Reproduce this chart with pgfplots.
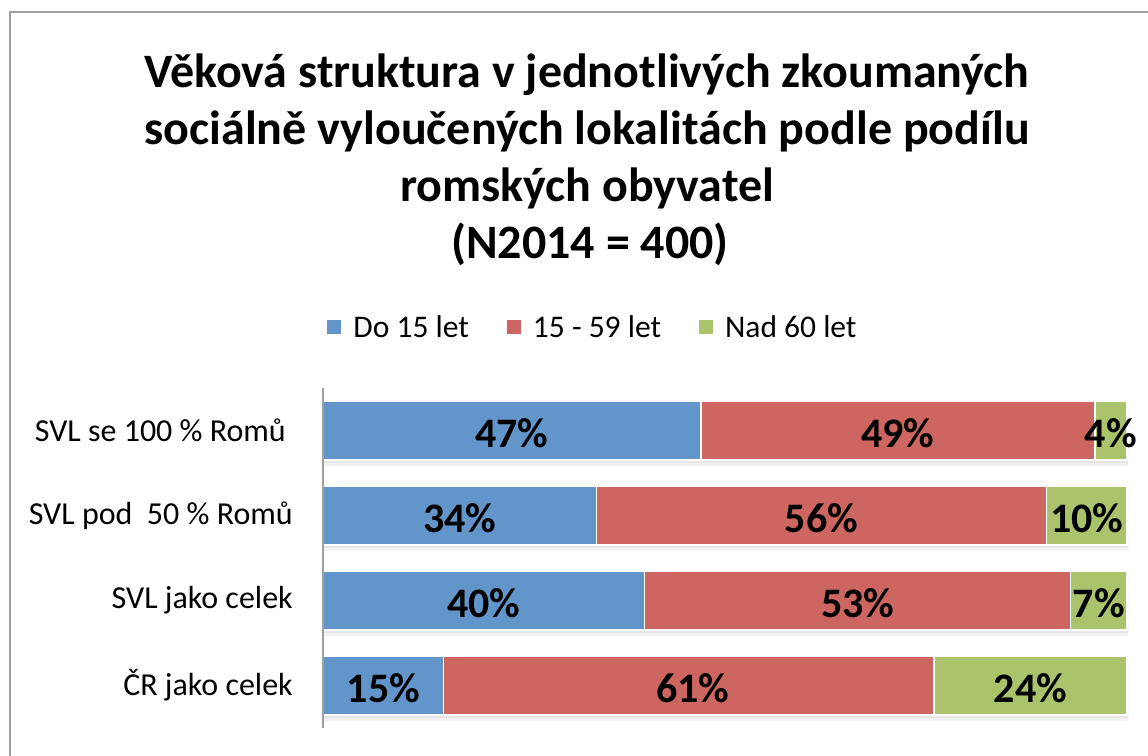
\documentclass[border=0pt]{standalone}
\usepackage{pgfplots}
\pgfplotsset{compat=1.18}
\usepackage{fontspec}
\setmainfont{Carlito}

\definecolor{cblue}{RGB}{98,150,202}
\definecolor{cred}{RGB}{205,101,96}
\definecolor{cgreen}{RGB}{171,196,107}
\definecolor{frame}{RGB}{160,160,160}

\pgfplotsset{
  base/.style={
    scale only axis, width=804bp, height=340bp,
    xmin=0, xmax=100, ymin=-0.5, ymax=3.5,
    at={(323bp,28bp)}, anchor=south west, clip=false,
  },
}

\begin{document}
\begin{tikzpicture}
\useasboundingbox (0,0) rectangle (1148bp,756bp);
\clip (0,0) rectangle (1148bp,756bp);
\draw[frame, line width=2bp] (10bp,-30bp) rectangle (1200bp,744bp);

% title
\begin{scope}[every node/.style={anchor=base, inner sep=0pt,
    font=\bfseries\fontsize{48bp}{58bp}\selectfont}]
\node at (587bp,668bp) {Věková struktura v jednotlivých zkoumaných};
\node at (587bp,611bp) {sociálně vyloučených lokalitách podle podílu};
\node at (587bp,554bp) {romských obyvatel};
\node at (590bp,497bp) {(N2014 = 400)};
\end{scope}

% soft shadow under the bars
\begin{axis}[base, hide axis, xbar, bar width=59bp, bar shift=0pt]
\addplot[fill=black!5, draw=none, yshift=-6bp, xshift=1bp] coordinates {(100,0) (100,1) (100,2) (100,3)};
\addplot[fill=black!10, draw=none, yshift=-3bp, xshift=1bp] coordinates {(100,0) (100,1) (100,2) (100,3)};
\end{axis}

\begin{axis}[base,
  xbar stacked, bar width=59bp, axis on top,
  axis x line=none, axis y line=left,
  axis line style={-, draw=frame, line width=1.5bp},
  ytick={0,1,2,3},
  yticklabels={ČR jako celek, SVL jako celek, SVL pod\ \ 50 \% Romů, SVL se 100 \% Romů\kern7bp},
  major tick length=0pt,
  yticklabel style={anchor=east, inner sep=0pt, xshift=-30bp,
    font=\fontsize{32bp}{38bp}\selectfont},
  legend columns=-1,
  legend image code/.code={\fill[#1, draw=none] (0bp,-7bp) rectangle (14bp,7bp);},
  legend style={draw=none, fill=none, at={(axis description cs:0.3346,1.179)}, anchor=center,
    nodes={inner sep=0pt, font=\fontsize{31.5bp}{36bp}\selectfont},
    /tikz/every odd column/.append style={column sep=12bp},
    /tikz/every even column/.append style={column sep=38bp}},
]
\addplot[fill=cblue, draw=white, line width=1.5bp] coordinates {(15,0) (40,1) (34,2) (47,3)};
\addplot[fill=cred, draw=white, line width=1.5bp] coordinates {(61,0) (53,1) (56,2) (49,3)};
\addplot[fill=cgreen, draw=white, line width=1.5bp] coordinates {(24,0) (7,1) (10,2) (4,3)};
\legend{Do 15 let, 15 - 59 let, Nad 60 let}
\end{axis}

% value labels at the middle of each segment
\begin{axis}[base, hide axis]
\addplot[draw=none, nodes near coords, point meta=explicit symbolic,
  every node near coord/.style={anchor=center, inner sep=0pt, yshift=-3bp,
    font=\bfseries\fontsize{42bp}{50bp}\selectfont}]
  coordinates {(7.5,0) [15\%] (46,0) [61\%] (88,0) [24\%]
               (20,1) [40\%] (66.5,1) [53\%] (96.5,1) [7\%]
               (17,2) [34\%] (62,2) [56\%] (95,2) [10\%]
               (23.5,3) [47\%] (71.5,3) [49\%] (98,3) [4\%]};
\end{axis}
\end{tikzpicture}
\end{document}
